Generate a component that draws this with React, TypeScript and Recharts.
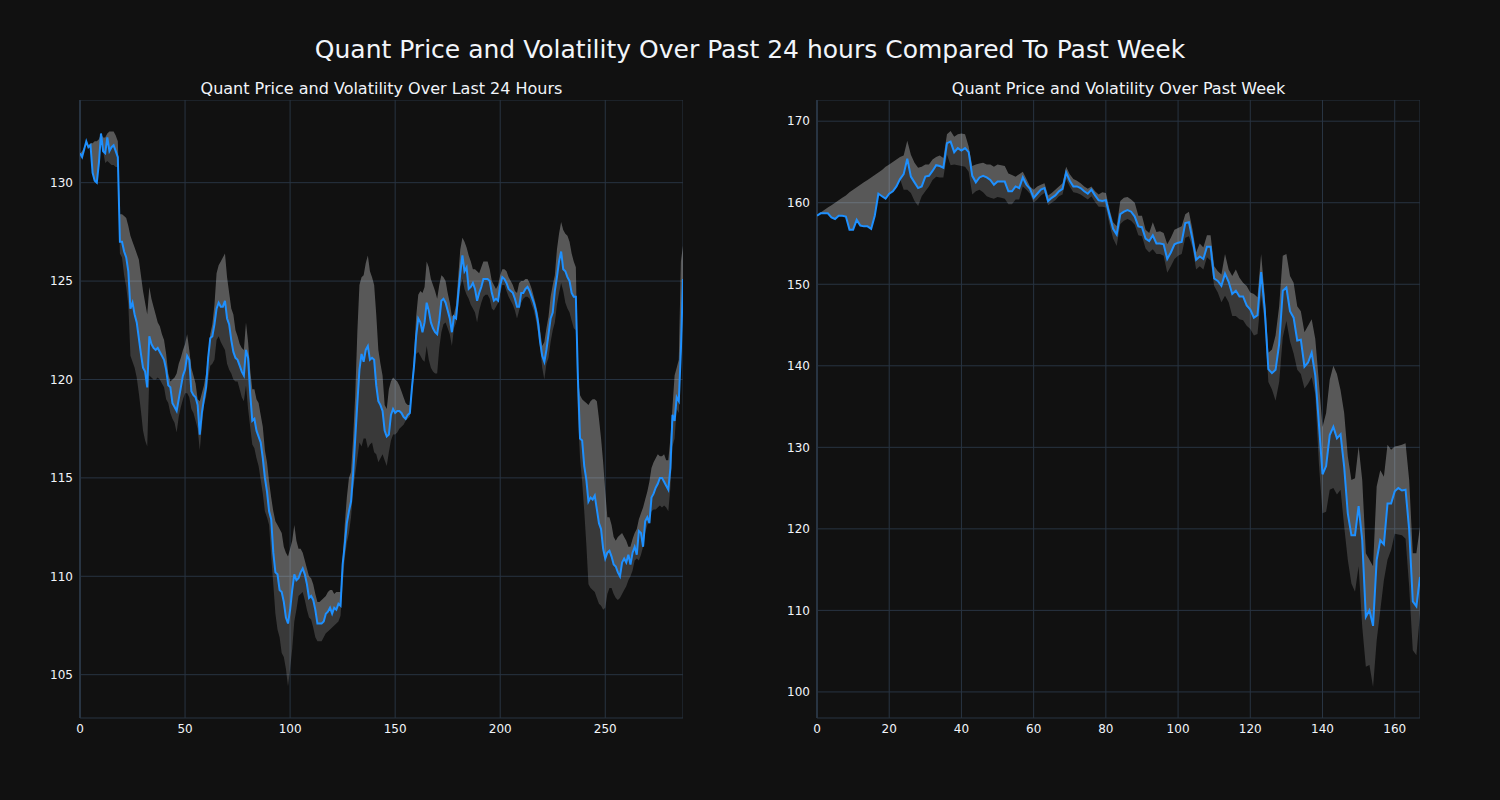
import { ComposedChart, Area, Line, XAxis, YAxis, CartesianGrid, ReferenceLine } from 'recharts';

// last 24 hours (5 minute steps)
const dayPrice = [
  131.5, 131.3, 131.7, 132.1, 131.8, 131.9, 130.5, 130.1, 130.0, 131.0,
  132.5, 131.6, 131.5, 132.3, 131.6, 131.8, 131.9, 131.6, 131.3, 127.0,
  127.0, 126.5, 126.2, 125.5, 123.6, 123.9, 123.3, 122.9, 122.1, 121.3,
  120.6, 120.4, 119.6, 122.2, 121.8, 121.6, 121.5, 121.6, 121.4, 121.2,
  121.0, 120.5, 119.7, 119.6, 118.8, 118.6, 118.4, 119.0, 119.6, 120.2,
  120.5, 121.2, 121.0, 119.4, 119.2, 119.1, 118.7, 117.2, 118.3, 119.0,
  119.6, 121.1, 122.1, 122.2, 122.8, 123.6, 123.9, 123.7, 123.7, 124.0,
  123.1, 122.8, 122.0, 121.4, 121.1, 121.0, 120.7, 120.4, 120.2, 121.5,
  121.1, 119.3, 117.9, 118.0, 117.4, 117.1, 116.8, 116.0, 115.0, 114.3,
  113.3, 112.9, 111.2, 110.2, 110.1, 109.3, 109.2, 108.7, 107.9, 107.6,
  108.3, 109.3, 110.1, 109.8, 109.9, 110.2, 110.4, 110.1, 109.6, 108.9,
  109.0, 108.8, 108.3, 107.6, 107.6, 107.6, 107.7, 108.1, 108.2, 108.4,
  108.1, 108.4, 108.3, 108.6, 108.5, 110.6, 111.6, 112.7, 113.3, 113.8,
  115.2, 117.0, 118.8, 120.5, 121.3, 120.9, 121.5, 121.7, 121.0, 121.1,
  121.0, 119.7, 118.9, 118.7, 118.4, 117.4, 117.1, 117.2, 118.2, 118.5,
  118.3, 118.4, 118.4, 118.3, 118.1, 118.0, 118.2, 118.3, 119.6, 120.7,
  122.2, 123.1, 122.9, 122.4, 122.9, 123.9, 123.5, 122.9, 122.6, 122.4,
  122.3, 123.0, 124.0, 124.1, 123.9, 123.5, 123.1, 122.4, 123.2, 123.1,
  124.3, 125.4, 126.3, 125.5, 125.7, 124.6, 124.7, 124.9, 124.6, 124.0,
  124.4, 124.7, 125.1, 125.1, 125.1, 125.0, 124.4, 124.0, 124.1, 124.0,
  124.8, 125.2, 125.1, 124.9, 124.6, 124.5, 124.4, 124.1, 123.7, 123.7,
  124.4, 124.4, 124.6, 124.7, 124.5, 124.2, 123.9, 123.5, 122.9, 121.9,
  121.2, 120.9, 121.5, 122.3, 123.1, 123.4, 124.5, 125.2, 126.0, 126.5,
  125.6, 125.5, 125.2, 125.0, 124.4, 124.2, 124.2, 120.0, 117.0, 116.9,
  115.6, 114.9, 113.8, 114.0, 113.9, 114.1, 113.4, 112.7, 112.4, 111.4,
  110.9, 111.2, 111.3, 111.0, 110.6, 110.5, 110.2, 110.0, 110.7, 110.9,
  110.7, 111.1, 110.6, 111.2, 111.5, 111.1, 112.3, 112.2, 111.5, 112.8,
  113.0, 112.7, 114.0, 114.2, 114.5, 114.7, 115.0, 115.0, 114.8, 114.6,
  114.4, 115.5, 118.2, 117.9, 119.1, 118.9, 121.5, 125.1,
];
const dayUpper = [
  131.5, 131.6, 131.8, 132.1, 131.9, 132.0, 132.0, 132.1, 132.1, 132.2,
  132.5, 132.3, 132.3, 132.5, 132.6, 132.6, 132.6, 132.4, 132.1, 128.4,
  128.4, 128.3, 128.2, 127.8, 127.3, 127.0, 126.7, 126.4, 126.1, 125.3,
  124.5, 123.9, 123.3, 124.7, 124.1, 123.7, 123.3, 122.9, 122.7, 122.3,
  122.0, 121.3, 120.3, 119.9, 120.0, 120.1, 120.3, 120.8, 121.1, 121.5,
  121.8, 122.3, 121.5, 120.6, 120.2, 119.8, 119.0, 118.9, 119.3, 119.7,
  120.3, 121.3, 122.3, 122.8, 123.8, 125.4, 125.8, 126.0, 126.2, 126.4,
  125.2, 124.4, 123.6, 123.3, 122.5, 122.2, 121.8, 121.6, 121.5, 122.9,
  121.9, 120.5, 119.5, 119.5, 119.0, 118.8, 118.2, 117.6, 116.4, 115.8,
  114.8, 114.0, 113.3, 112.8, 112.6, 112.4, 112.2, 111.5, 111.2, 111.0,
  111.4, 111.8, 112.6, 111.8, 111.4, 111.4, 111.2, 110.8, 110.4, 110.0,
  109.9, 109.6, 109.1, 108.7, 108.7, 108.8, 108.9, 109.0, 109.2, 109.3,
  109.3, 109.1, 109.2, 109.2, 109.2, 110.8, 112.6, 114.0, 115.0, 115.3,
  117.0, 119.2, 122.4, 124.8, 125.2, 125.3, 125.9, 126.3, 125.5, 125.2,
  124.8, 123.3, 121.5, 120.8, 120.2, 118.7, 118.5, 119.5, 119.9, 120.1,
  120.0, 119.9, 119.7, 119.4, 119.1, 118.8, 118.7, 118.7, 119.8, 121.3,
  123.2, 124.3, 124.5, 124.4, 124.7, 126.0, 125.7, 125.1, 124.8, 124.5,
  124.1, 124.8, 125.3, 125.2, 125.0, 124.4, 123.9, 123.2, 123.3, 123.8,
  125.2, 126.6, 127.2, 127.0, 126.7, 126.3, 126.0, 125.6, 125.6, 125.5,
  125.4, 125.7, 126.0, 126.0, 126.0, 125.6, 125.0, 124.8, 124.6, 124.8,
  125.3, 125.6, 125.6, 125.5, 125.2, 125.0, 124.8, 124.5, 124.4, 124.9,
  125.0, 125.0, 125.1, 125.1, 124.9, 124.6, 124.2, 123.8, 123.3, 122.5,
  121.7, 121.9, 122.6, 123.2, 124.2, 124.8, 125.3, 126.6, 127.4, 128.0,
  127.6, 127.4, 127.3, 127.0, 126.4, 126.0, 125.7, 120.0, 119.2, 119.0,
  118.9, 118.8, 118.7, 118.9, 119.0, 119.0, 118.9, 118.0, 117.0, 115.8,
  114.3, 113.0, 113.0, 112.6, 112.0, 111.8, 112.0, 112.1, 112.2, 112.0,
  111.8, 111.5, 111.5, 111.9, 112.2, 112.4, 112.9, 113.2, 113.5, 113.9,
  114.3, 114.8, 115.5, 115.8, 116.0, 116.2, 116.1, 116.1, 116.2, 115.9,
  115.9, 117.0, 118.6, 120.2, 120.6, 121.0, 126.0, 126.8,
];
const dayLower = [
  131.5, 131.3, 131.7, 132.1, 131.8, 131.9, 130.5, 130.1, 130.0, 131.0,
  132.5, 131.6, 131.0, 131.1, 131.0, 130.9, 130.9, 130.8, 130.8, 126.4,
  126.2, 125.3, 124.7, 123.8, 121.2, 120.9, 120.6, 120.1, 119.3, 118.4,
  117.4, 116.9, 116.6, 120.2, 120.1, 120.0, 120.0, 120.1, 120.0, 119.8,
  119.6, 119.0, 118.8, 118.3, 118.0, 117.8, 117.3, 118.1, 118.6, 119.0,
  119.3, 119.3, 119.1, 118.5, 118.3, 117.9, 117.5, 116.4, 117.6, 118.7,
  119.1, 120.0, 120.7, 120.8, 121.0, 122.0, 122.2, 121.9, 121.7, 121.5,
  120.8, 120.5, 120.3, 120.0, 119.9, 119.9, 119.5, 119.1, 118.9, 119.7,
  118.5, 117.6, 116.7, 116.5, 116.0, 115.6, 114.9, 114.2, 113.3, 113.0,
  112.6, 111.0, 109.6, 108.1, 107.3, 106.9, 106.1, 105.9, 105.3, 104.4,
  105.3, 106.3, 107.7, 108.3, 109.0, 109.1, 109.2, 108.8, 108.3, 107.9,
  107.8, 107.4, 106.9, 106.7, 106.7, 106.7, 106.9, 107.1, 107.2, 107.3,
  107.4, 107.5, 107.6, 107.7, 108.0, 109.6, 110.9, 111.7, 112.2, 113.0,
  114.4, 115.2, 116.0, 116.8, 116.6, 117.0, 117.0, 116.5, 116.7, 116.8,
  116.3, 116.2, 115.8, 116.0, 116.2, 115.9, 115.6, 116.3, 116.9, 117.2,
  117.2, 117.3, 117.5, 117.6, 117.7, 117.9, 118.0, 118.1, 119.2, 120.3,
  121.3, 121.4, 121.2, 121.0, 120.9, 121.7, 121.0, 120.6, 120.4, 120.3,
  120.3, 121.6, 122.4, 122.8, 122.9, 122.6, 122.3, 121.7, 122.6, 122.9,
  123.7, 124.7, 125.1, 124.6, 124.3, 124.1, 123.8, 123.6, 123.4, 122.9,
  123.5, 123.9, 124.2, 124.3, 124.3, 124.1, 123.6, 123.5, 123.7, 123.9,
  124.4, 124.8, 124.8, 124.5, 124.2, 124.0, 123.8, 123.5, 123.1, 123.5,
  123.9, 124.1, 124.2, 124.2, 124.1, 123.8, 123.5, 123.0, 122.4, 121.6,
  120.6, 120.0, 120.8, 121.1, 121.9, 122.5, 122.9, 123.8, 124.4, 124.9,
  124.5, 123.9, 123.6, 123.4, 123.0, 122.6, 122.5, 118.2, 116.0, 114.8,
  113.3, 111.6, 109.6, 109.4, 109.3, 109.2, 108.9, 108.6, 108.5, 108.3,
  108.4, 109.1, 109.4, 109.4, 109.1, 108.9, 108.8, 108.9, 109.1, 109.3,
  109.5, 109.8, 110.0, 110.3, 110.8, 110.9, 110.8, 111.1, 111.5, 112.2,
  112.6, 113.0, 113.3, 113.4, 113.4, 113.5, 113.6, 113.5, 113.6, 113.5,
  113.3, 114.5, 116.6, 117.0, 118.5, 118.3, 121.0, 123.5,
];

// past week (hourly steps)
const weekPrice = [
  158.4, 158.7, 158.7, 158.7, 158.2, 158.0, 158.4, 158.4, 158.3, 156.7,
  156.7, 157.9, 157.2, 157.1, 157.1, 156.8, 158.4, 161.1, 160.8, 160.5,
  161.1, 161.4, 162.0, 162.9, 163.5, 165.4, 163.2, 162.5, 161.8, 162.0,
  163.2, 163.3, 163.9, 164.6, 164.5, 164.3, 167.3, 167.5, 166.2, 166.7,
  166.4, 166.7, 166.2, 163.3, 162.5, 163.1, 163.3, 163.1, 162.8, 162.2,
  162.6, 162.6, 162.6, 161.4, 161.4, 162.0, 161.8, 163.1, 162.2, 161.7,
  160.6, 161.1, 161.6, 161.8, 160.2, 160.6, 160.9, 161.4, 161.7, 163.7,
  162.7, 162.0, 162.0, 161.8, 161.4, 161.1, 161.6, 160.9, 160.3, 160.2,
  160.3, 158.5, 156.8, 156.1, 158.6, 158.9, 159.1, 158.9, 158.3, 157.1,
  157.0, 155.6, 155.3, 156.0, 155.0, 155.0, 154.9, 153.1, 153.9, 154.9,
  155.1, 155.2, 157.5, 157.6, 155.5, 153.0, 153.4, 153.1, 154.6, 154.6,
  150.7, 150.4, 149.8, 151.3, 150.3, 148.8, 149.2, 148.5, 148.5, 147.4,
  146.9, 145.9, 146.2, 151.5, 146.9, 139.6, 139.1, 139.5, 142.7, 149.2,
  149.6, 146.7, 145.9, 143.1, 143.2, 139.9, 140.4, 141.6, 138.8, 132.9,
  126.7, 127.7, 131.5, 132.5, 131.1, 131.6, 127.6, 121.9, 119.2, 119.2,
  122.8, 118.6, 109.2, 110.0, 108.1, 116.2, 118.6, 118.1, 123.1, 123.1,
  124.6, 125.0, 124.7, 124.8, 119.9, 111.1, 110.5, 114.1,
];
const weekUpper = [
  158.4, 158.8, 159.1, 159.4, 159.7, 160.0, 160.3, 160.6, 160.9, 161.3,
  161.6, 161.9, 162.2, 162.5, 162.8, 163.1, 163.4, 163.7, 164.0, 164.4,
  164.7, 165.0, 165.3, 165.6, 165.8, 167.6, 165.9, 164.9, 164.3, 164.4,
  164.7, 164.7, 165.3, 165.6, 165.8, 165.5, 168.4, 168.8, 168.1, 168.4,
  168.5, 168.4, 166.9, 164.5, 164.7, 164.8, 164.9, 164.7, 164.7, 164.4,
  164.7, 164.6, 164.5, 163.6, 163.4, 163.2, 163.5, 163.8, 162.9, 162.0,
  161.6, 162.0, 162.2, 162.4, 160.9, 161.2, 161.6, 162.0, 162.4, 164.4,
  163.5, 162.9, 162.7, 162.4, 162.0, 161.7, 162.0, 161.4, 161.0, 161.3,
  161.2, 159.2, 157.6, 157.1, 160.2, 160.6, 160.7, 160.4, 160.0, 158.4,
  158.4, 156.7, 156.3, 157.6, 156.4, 156.5, 156.3, 154.9, 155.7, 156.7,
  156.9, 157.1, 158.6, 158.9, 156.7, 153.9, 155.0, 154.5, 156.0, 156.0,
  152.2, 151.6, 151.2, 153.7, 151.8, 151.0, 151.8, 150.8, 150.2, 149.8,
  149.0, 148.8, 148.4, 153.7, 148.6, 141.6, 142.0, 143.7, 147.3, 153.5,
  153.7, 151.0, 150.2, 147.3, 146.7, 144.1, 144.9, 145.7, 143.3, 138.0,
  132.5, 134.2, 138.3, 140.0, 139.0, 137.0, 134.2, 128.9, 126.0, 126.2,
  130.1, 126.0, 117.0, 116.2, 115.4, 125.2, 127.2, 126.4, 130.3, 129.7,
  130.1, 130.2, 130.3, 130.5, 126.0, 117.0, 117.0, 120.3,
];
const weekLower = [
  158.4, 158.7, 158.7, 158.7, 158.2, 158.0, 158.4, 158.4, 158.3, 156.7,
  156.7, 157.9, 157.2, 157.1, 157.1, 156.8, 158.4, 161.1, 160.8, 160.5,
  161.1, 161.4, 162.0, 162.9, 161.6, 161.6, 161.2, 160.2, 159.6, 160.8,
  161.4, 162.0, 162.8, 163.2, 163.1, 163.1, 165.9, 164.6, 164.7, 164.6,
  164.5, 164.4, 163.8, 161.0, 161.4, 161.6, 161.3, 160.8, 160.6, 160.5,
  160.7, 160.6, 160.5, 159.8, 159.8, 160.4, 160.4, 162.0, 161.6, 161.1,
  160.0, 160.4, 160.9, 161.2, 159.7, 160.0, 160.3, 160.8, 161.0, 162.9,
  162.0, 161.3, 161.2, 161.0, 160.7, 160.4, 160.8, 160.1, 159.5, 159.5,
  159.4, 157.4, 155.6, 154.7, 157.4, 157.8, 158.0, 157.8, 157.3, 156.0,
  155.9, 154.4, 153.9, 154.3, 153.7, 153.7, 153.5, 151.4, 152.2, 153.1,
  153.5, 153.7, 155.7, 155.9, 154.5, 151.8, 152.2, 151.8, 153.3, 152.9,
  149.8, 149.0, 147.8, 148.6, 147.8, 146.1, 146.1, 145.7, 145.6, 144.9,
  144.5, 143.7, 143.9, 148.6, 145.3, 138.0, 137.1, 135.7, 138.0, 143.5,
  145.5, 143.0, 141.5, 139.5, 139.0, 137.2, 137.8, 138.6, 136.5, 128.0,
  121.9, 122.1, 124.8, 125.0, 124.2, 124.8, 120.3, 116.2, 113.3, 112.3,
  115.4, 108.0, 103.1, 103.3, 100.6, 106.3, 110.0, 113.7, 116.2, 117.4,
  119.4, 119.3, 119.2, 118.8, 112.9, 105.1, 104.5, 109.6,
];

const dayTicksX = [0, 50, 100, 150, 200, 250];
const dayTicksY = [105, 110, 115, 120, 125, 130];
const weekTicksX = [0, 20, 40, 60, 80, 100, 120, 140, 160];
const weekTicksY = [100, 110, 120, 130, 140, 150, 160, 170];

const GRID = '#283442';
const TEXT = '#f2f5fa';

const build = (price: number[], upper: number[], lower: number[]) =>
  price.map((p, i) => ({ x: i, p, u: upper[i], l: lower[i] }));

const dayData = build(dayPrice, dayUpper, dayLower);
const weekData = build(weekPrice, weekUpper, weekLower);

interface PanelProps {
  data: { x: number; p: number; u: number; l: number }[];
  xDomain: [number, number];
  yDomain: [number, number];
  xTicks: number[];
  yTicks: number[];
  left: number;
  title: string;
}

const Panel = ({ data, xDomain, yDomain, xTicks, yTicks, left, title }: PanelProps) => (
  <div style={{ position: 'absolute', left, top: 0 }}>
    <div
      style={{
        position: 'absolute',
        left: 40,
        width: 603,
        top: 78,
        textAlign: 'center',
        fontSize: 16,
        lineHeight: '22px',
        color: TEXT,
        whiteSpace: 'nowrap',
      }}
    >
      {title}
    </div>
    <div style={{ position: 'absolute', left: 0, top: 100 }}>
      <ComposedChart width={643} height={648} data={data} margin={{ top: 0, right: 0, bottom: 0, left: 0 }}>
        <CartesianGrid stroke={GRID} strokeWidth={1} />
        <XAxis
          type="number"
          dataKey="x"
          domain={xDomain}
          ticks={xTicks}
          axisLine={false}
          tickLine={false}
          tickSize={0}
          tickMargin={6}
          height={30}
          allowDataOverflow
          tick={{ fill: TEXT, fontSize: 12 }}
        />
        <YAxis
          type="number"
          domain={yDomain}
          ticks={yTicks}
          axisLine={false}
          tickLine={false}
          tickSize={0}
          tickMargin={7}
          width={40}
          allowDataOverflow
          tick={{ fill: TEXT, fontSize: 12 }}
        />
        <ReferenceLine x={0} stroke={GRID} strokeWidth={2} />
        <Area
          type="linear"
          dataKey={(d: any) => [d.p, d.u]}
          stroke="none"
          fill="#ffffff"
          fillOpacity={0.3}
          isAnimationActive={false}
        />
        <Area
          type="linear"
          dataKey={(d: any) => [d.l, d.p]}
          stroke="none"
          fill="#ffffff"
          fillOpacity={0.17}
          isAnimationActive={false}
        />
        <Line
          type="linear"
          dataKey="p"
          stroke="#1e90ff"
          strokeWidth={2}
          dot={false}
          isAnimationActive={false}
        />
      </ComposedChart>
    </div>
  </div>
);

export default function App() {
  return (
    <div
      style={{
        position: 'absolute',
        left: 0,
        top: 0,
        width: 1500,
        height: 800,
        background: '#111111',
        fontFamily: '"DejaVu Sans", sans-serif',
        overflow: 'hidden',
      }}
    >
      <div
        style={{
          position: 'absolute',
          left: 0,
          width: 1500,
          top: 33,
          textAlign: 'center',
          fontSize: 25,
          lineHeight: '34px',
          color: TEXT,
        }}
      >
        Quant Price and Volatility Over Past 24 hours Compared To Past Week
      </div>
      <Panel
        data={dayData}
        xDomain={[0, 287]}
        yDomain={[102.8, 134.2]}
        xTicks={dayTicksX}
        yTicks={dayTicksY}
        left={40}
        title="Quant Price and Volatility Over Last 24 Hours"
      />
      <Panel
        data={weekData}
        xDomain={[0, 167]}
        yDomain={[96.8, 172.6]}
        xTicks={weekTicksX}
        yTicks={weekTicksY}
        left={777}
        title="Quant Price and Volatility Over Past Week"
      />
    </div>
  );
}
